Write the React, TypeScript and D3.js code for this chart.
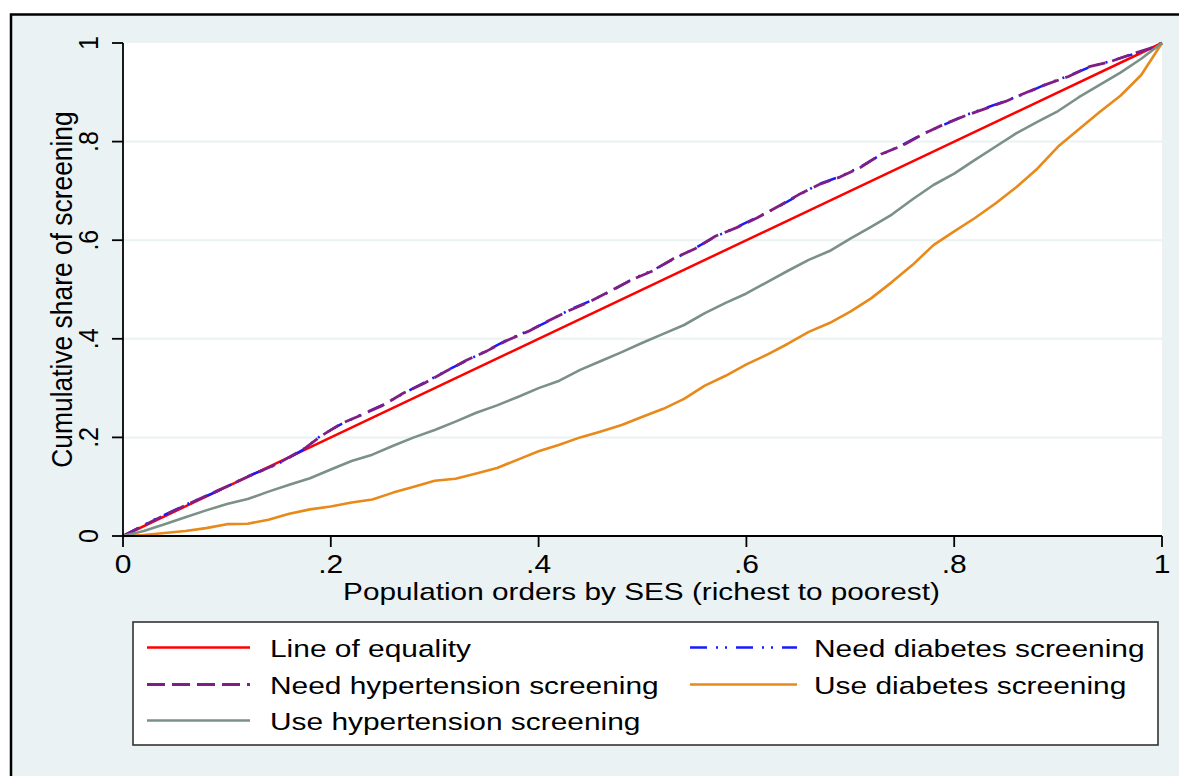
import React from "react";
import * as d3 from "d3";

const W = 1179;
const H = 776;

const xTicks = [0, 0.2, 0.4, 0.6, 0.8, 1];
const yTicks = [0, 0.2, 0.4, 0.6, 0.8, 1];
const xTickLabels = ["0", ".2", ".4", ".6", ".8", "1"];
const yTickLabels = ["0", ".2", ".4", ".6", ".8", "1"];
const gridValues = [0.2, 0.4, 0.6, 0.8];

const xTitle = "Population orders by SES (richest to poorest)";
const yTitle = "Cumulative share of screening";

const equality: [number, number][] = [[0, 0], [1, 1]];

const needHypertension: [number, number][] = [
  [0, 0], [0.03, 0.032], [0.06, 0.062], [0.09, 0.091], [0.12, 0.12], [0.15, 0.148],
  [0.175, 0.178], [0.19, 0.202], [0.21, 0.228], [0.23, 0.246], [0.25, 0.265], [0.27, 0.29],
  [0.29, 0.31], [0.31, 0.333], [0.33, 0.356], [0.35, 0.375], [0.37, 0.397], [0.39, 0.415],
  [0.41, 0.437], [0.43, 0.458], [0.45, 0.476], [0.47, 0.498], [0.49, 0.52], [0.51, 0.538],
  [0.53, 0.563], [0.55, 0.582], [0.57, 0.608], [0.59, 0.625], [0.61, 0.645], [0.63, 0.668],
  [0.65, 0.692], [0.67, 0.713], [0.69, 0.728], [0.71, 0.748], [0.73, 0.775], [0.75, 0.792],
  [0.77, 0.815], [0.79, 0.835], [0.81, 0.852], [0.83, 0.867], [0.85, 0.882], [0.87, 0.9],
  [0.89, 0.917], [0.91, 0.932], [0.93, 0.952], [0.95, 0.962], [0.97, 0.977], [0.99, 0.99], [1, 1],
];

const needDiabetes: [number, number][] = [
  [0, 0], [0.03, 0.033], [0.06, 0.063], [0.09, 0.09], [0.12, 0.121], [0.15, 0.147],
  [0.175, 0.177], [0.19, 0.203], [0.21, 0.227], [0.23, 0.247], [0.25, 0.266], [0.27, 0.289],
  [0.29, 0.311], [0.31, 0.334], [0.33, 0.355], [0.35, 0.376], [0.37, 0.398], [0.39, 0.416],
  [0.41, 0.436], [0.43, 0.459], [0.45, 0.477], [0.47, 0.497], [0.49, 0.521], [0.51, 0.539],
  [0.53, 0.562], [0.55, 0.583], [0.57, 0.607], [0.59, 0.626], [0.61, 0.646], [0.63, 0.667],
  [0.65, 0.691], [0.67, 0.714], [0.69, 0.729], [0.71, 0.749], [0.73, 0.774], [0.75, 0.793],
  [0.77, 0.816], [0.79, 0.834], [0.81, 0.853], [0.83, 0.868], [0.85, 0.883], [0.87, 0.899],
  [0.89, 0.918], [0.91, 0.933], [0.93, 0.951], [0.95, 0.963], [0.97, 0.976], [0.99, 0.99], [1, 1],
];

const useHypertension: [number, number][] = [
  [0, 0], [0.02, 0.01], [0.04, 0.024], [0.06, 0.038], [0.08, 0.052], [0.1, 0.065],
  [0.12, 0.075], [0.14, 0.09], [0.16, 0.104], [0.18, 0.117], [0.2, 0.135], [0.22, 0.152],
  [0.24, 0.165], [0.26, 0.183], [0.28, 0.2], [0.3, 0.215], [0.32, 0.232], [0.34, 0.25],
  [0.36, 0.265], [0.38, 0.282], [0.4, 0.3], [0.42, 0.315], [0.44, 0.337], [0.46, 0.355],
  [0.48, 0.373], [0.5, 0.392], [0.52, 0.41], [0.54, 0.428], [0.56, 0.452], [0.58, 0.473],
  [0.6, 0.492], [0.62, 0.515], [0.64, 0.538], [0.66, 0.56], [0.68, 0.578], [0.7, 0.603],
  [0.72, 0.627], [0.74, 0.652], [0.76, 0.683], [0.78, 0.712], [0.8, 0.735], [0.82, 0.763],
  [0.84, 0.79], [0.86, 0.817], [0.88, 0.84], [0.9, 0.862], [0.92, 0.89], [0.94, 0.915],
  [0.96, 0.94], [0.98, 0.968], [1, 1],
];

const useDiabetes: [number, number][] = [
  [0, 0], [0.02, 0.002], [0.04, 0.006], [0.06, 0.01], [0.08, 0.016], [0.1, 0.024],
  [0.12, 0.025], [0.14, 0.033], [0.16, 0.045], [0.18, 0.054], [0.2, 0.06], [0.22, 0.068],
  [0.24, 0.074], [0.26, 0.088], [0.28, 0.1], [0.3, 0.112], [0.32, 0.116], [0.34, 0.127],
  [0.36, 0.138], [0.38, 0.155], [0.4, 0.172], [0.42, 0.185], [0.44, 0.2], [0.46, 0.212],
  [0.48, 0.225], [0.5, 0.242], [0.52, 0.258], [0.54, 0.278], [0.56, 0.305], [0.58, 0.325],
  [0.6, 0.348], [0.62, 0.368], [0.64, 0.39], [0.66, 0.414], [0.68, 0.432], [0.7, 0.455],
  [0.72, 0.482], [0.74, 0.515], [0.76, 0.55], [0.78, 0.59], [0.8, 0.618], [0.82, 0.645],
  [0.84, 0.675], [0.86, 0.708], [0.88, 0.745], [0.9, 0.79], [0.92, 0.825], [0.94, 0.86],
  [0.96, 0.893], [0.98, 0.935], [1, 1],
];

const seriesNames = [
  "Line of equality",
  "Need diabetes screening",
  "Need hypertension screening",
  "Use diabetes screening",
  "Use hypertension screening",
];

const FONT = "'Liberation Sans', Arial, Helvetica, sans-serif";
const BG = "#eaf2f3";

type Series = { name: string; data: [number, number][]; color: string; dash?: string; width: number };

const series: Series[] = [
  { name: seriesNames[0], data: equality, color: "#ff0000", width: 2.5 },
  { name: seriesNames[1], data: needDiabetes, color: "#1a1aff", dash: "17 9 2 7 2 9", width: 2.5 },
  { name: seriesNames[2], data: needHypertension, color: "#7f1f86", dash: "18 7", width: 2.8 },
  { name: seriesNames[3], data: useDiabetes, color: "#e8891a", width: 2.6 },
  { name: seriesNames[4], data: useHypertension, color: "#7a9088", width: 2.6 },
];

// legend layout: [seriesIndex, col, row]
const legendOrder: [number, number, number][] = [
  [0, 0, 0],
  [1, 1, 0],
  [2, 0, 1],
  [3, 1, 1],
  [4, 0, 2],
];

function T({ x, y, sx = 1.2, rot = false, anchor = "middle", size = 24, children }: any) {
  const tr = rot
    ? `translate(${x},${y}) scale(${sx},1) rotate(-90)`
    : `translate(${x},${y}) scale(${sx},1)`;
  return (
    <text transform={tr} textAnchor={anchor} fontSize={size} fontFamily={FONT} fill="#000">
      {children}
    </text>
  );
}

export default function App() {
  const left = 123, right = 1162, top = 43, bottom = 536;
  const x = d3.scaleLinear().domain([0, 1]).range([left, right]);
  const y = d3.scaleLinear().domain([0, 1]).range([bottom, top]);
  const line = d3.line<[number, number]>().x((d) => x(d[0])).y((d) => y(d[1]));

  const legend = { x0: 133, y0: 622, x1: 1158, y1: 745 };
  const colLine = [[147, 250], [690, 797]];
  const colText = [270, 814];
  const rowY = [647.5, 684.5, 720.5];

  return (
    <svg width={W} height={H} style={{ position: "absolute", left: 0, top: 0, background: "#fff" }}>
      <rect x={11} y={14.5} width={W + 20} height={H + 20} fill={BG} stroke="#000" strokeWidth={2.5} />
      <rect x={left} y={top} width={right - left} height={bottom - top} fill="#fff" />
      {gridValues.map((g) => (
        <line key={g} x1={left} x2={right} y1={y(g)} y2={y(g)} stroke={BG} strokeWidth={2} />
      ))}
      {series.map((s) => (
        <path
          key={s.name}
          d={line(s.data) || ""}
          fill="none"
          stroke={s.color}
          strokeWidth={s.width}
          strokeDasharray={s.dash}
          strokeLinejoin="round"
        />
      ))}
      {/* axes */}
      <line x1={left} x2={left} y1={top} y2={bottom} stroke="#000" strokeWidth={1.8} />
      <line x1={left} x2={right} y1={bottom} y2={bottom} stroke="#000" strokeWidth={1.8} />
      {yTicks.map((t, i) => (
        <g key={"y" + t}>
          <line x1={left - 11} x2={left} y1={y(t)} y2={y(t)} stroke="#000" strokeWidth={1.8} />
          <T x={98} y={y(t)} rot sx={1.08} size={25}>{yTickLabels[i]}</T>
        </g>
      ))}
      {xTicks.map((t, i) => (
        <g key={"x" + t}>
          <line x1={x(t)} x2={x(t)} y1={bottom} y2={bottom + 11} stroke="#000" strokeWidth={1.8} />
          <T x={x(t)} y={573} sx={1.2} size={25}>{xTickLabels[i]}</T>
        </g>
      ))}
      <T x={(left + right) / 2 - 1} y={600} sx={1.24} size={24}>{xTitle}</T>
      <T x={72} y={(top + bottom) / 2} rot sx={1.15} size={26.4}>{yTitle}</T>
      {/* legend */}
      <rect
        x={legend.x0}
        y={legend.y0}
        width={legend.x1 - legend.x0}
        height={legend.y1 - legend.y0}
        fill="#fff"
        stroke="#333"
        strokeWidth={1.6}
      />
      {legendOrder.map(([si, col, row]) => {
        const s = series[si];
        return (
          <g key={"lg" + si}>
            <line
              x1={colLine[col][0]}
              x2={colLine[col][1]}
              y1={rowY[row]}
              y2={rowY[row]}
              stroke={s.color}
              strokeWidth={s.width}
              strokeDasharray={s.dash}
            />
            <T x={colText[col]} y={rowY[row] + 9} anchor="start" sx={1.235} size={24.2}>{s.name}</T>
          </g>
        );
      })}
    </svg>
  );
}
